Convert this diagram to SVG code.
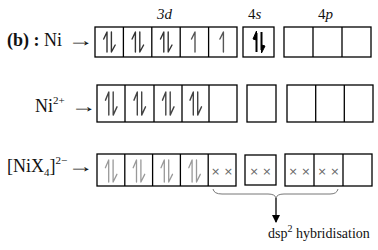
<svg xmlns="http://www.w3.org/2000/svg" width="378" height="250" viewBox="0 0 378 250">
<style>
.box{fill:#fff;stroke:#000;stroke-width:1.3}
.div{stroke:#000;stroke-width:1.3}
.t{font-family:'Liberation Serif','DejaVu Serif',serif;fill:#111}
.h{fill:none;stroke-linecap:round;stroke-linejoin:round}
.x{font-family:'DejaVu Sans','Liberation Sans',sans-serif;font-size:11px;fill:#666;text-anchor:middle}
</style>
<defs>
<g id="pair" class="h"><path d="M-2.2,10 V-10 L-5.5,-3"/><path d="M2.2,-10 V10 L6,3"/></g>
<g id="up" class="h"><path d="M0,10 V-10 L-3.5,-3"/></g>
<marker id="ah" markerWidth="8" markerHeight="8" refX="7" refY="4" orient="auto" markerUnits="userSpaceOnUse"><path d="M0,0 L8,4 L0,8 Z" fill="#000"/></marker>
</defs>

<g id="labels">
<text class="t" x="157" y="19" font-size="15" font-style="italic">3d</text>
<text class="t" x="248" y="19" font-size="15">4<tspan font-style="italic">s</tspan></text>
<text class="t" x="318" y="19" font-size="15">4<tspan font-style="italic">p</tspan></text>
</g>

<g id="row1-label">
<text class="t" x="7" y="46" font-size="18"><tspan font-weight="bold">(b) :</tspan> Ni</text>
<text class="t" transform="translate(68,46) scale(1.45,1)" font-size="18">→</text>
</g>
<g id="row2-label">
<text class="t" x="35" y="112" font-size="18">Ni<tspan font-size="11" dy="-8">2+</tspan></text>
<text class="t" transform="translate(71,112) scale(1.45,1)" font-size="18">→</text>
</g>
<g id="row3-label">
<text class="t" x="7" y="172" font-size="18">[NiX<tspan font-size="11" dy="4">4</tspan><tspan dy="-4">]</tspan><tspan font-size="11" dy="-8">2−</tspan></text>
<text class="t" transform="translate(68,172) scale(1.45,1)" font-size="18">→</text>
</g>

<g id="ni-3d">
<rect class="box" x="95" y="27" width="142" height="30"/>
<path class="div" d="M123.4,27V57M151.8,27V57M180.2,27V57M208.6,27V57"/>
<g stroke="#333" stroke-width="1.4">
<use href="#pair" x="109.2" y="42"/>
<use href="#pair" x="137.6" y="42"/>
<use href="#pair" x="166" y="42"/>
</g>
<g stroke="#555" stroke-width="1.4">
<use href="#up" x="195" y="42"/>
<use href="#up" x="223.4" y="42"/>
</g>
</g>
<g id="ni-4s">
<rect class="box" x="243" y="27" width="31" height="30"/>
<g stroke="#000" stroke-width="2">
<path d="M256.5,52V33" fill="none"/>
<path d="M256.5,31 L256.5,40 L253,39 Z" fill="#000" stroke-width="1"/>
<path d="M261.5,32V50" fill="none"/>
<path d="M261.5,53 L261.5,45 L265,46 Z" fill="#000" stroke-width="1"/>
</g>
</g>
<g id="ni-4p">
<rect class="box" x="284" y="27" width="87" height="30"/>
<path class="div" d="M313,27V57M342,27V57"/>
</g>

<g id="ni2-3d">
<rect class="box" x="97" y="85" width="140" height="37"/>
<path class="div" d="M125,85V122M154,85V122M182,85V122M209,85V122"/>
<g stroke="#444" stroke-width="1.4">
<use href="#pair" transform="translate(111,103.5) scale(1,1.15)"/>
<use href="#pair" transform="translate(139.5,103.5) scale(1,1.15)"/>
<use href="#pair" transform="translate(168,103.5) scale(1,1.15)"/>
<use href="#pair" transform="translate(195.5,103.5) scale(1,1.15)"/>
</g>
</g>
<g id="ni2-4s"><rect class="box" x="247" y="85" width="29" height="37"/></g>
<g id="ni2-4p">
<rect class="box" x="287" y="85" width="86" height="37"/>
<path class="div" d="M315.7,85V122M344.3,85V122"/>
</g>

<g id="nix4-3d">
<rect class="box" x="97" y="154" width="139" height="32"/>
<path class="div" d="M124.8,154V186M152.6,154V186M180.4,154V186M208.2,154V186"/>
<g stroke="#999" stroke-width="1.3">
<use href="#pair" transform="translate(110.9,171) scale(1,1.1)"/>
<use href="#pair" transform="translate(138.7,171) scale(1,1.1)"/>
<use href="#pair" transform="translate(166.5,171) scale(1,1.1)"/>
<use href="#pair" transform="translate(194.3,171) scale(1,1.1)"/>
</g>
<text class="x" x="222" y="175">× ×</text>
</g>
<g id="nix4-4s">
<rect class="box" x="245" y="155" width="31" height="30"/>
<text class="x" x="260.5" y="175">× ×</text>
</g>
<g id="nix4-4p">
<rect class="box" x="285" y="154" width="87" height="32"/>
<path class="div" d="M314,154V186M343,154V186"/>
<text class="x" x="299.5" y="175">× ×</text>
<text class="x" x="328.5" y="175">× ×</text>
</g>

<g id="connectors">
<path d="M213,189 Q214,194 222,194 L268,194 Q275,194 276,198 Q277,194 284,194 L330,194 Q337,194 338,189" fill="none" stroke="#777" stroke-width="1"/>
<line x1="276" y1="198" x2="276" y2="222" stroke="#000" stroke-width="1.3" marker-end="url(#ah)"/>
</g>
<g id="hyb-label">
<text class="t" x="268" y="238" font-size="14" fill="#222">dsp<tspan font-size="10" dy="-6">2</tspan><tspan dy="6"> hybridisation</tspan></text>
</g>
</svg>
